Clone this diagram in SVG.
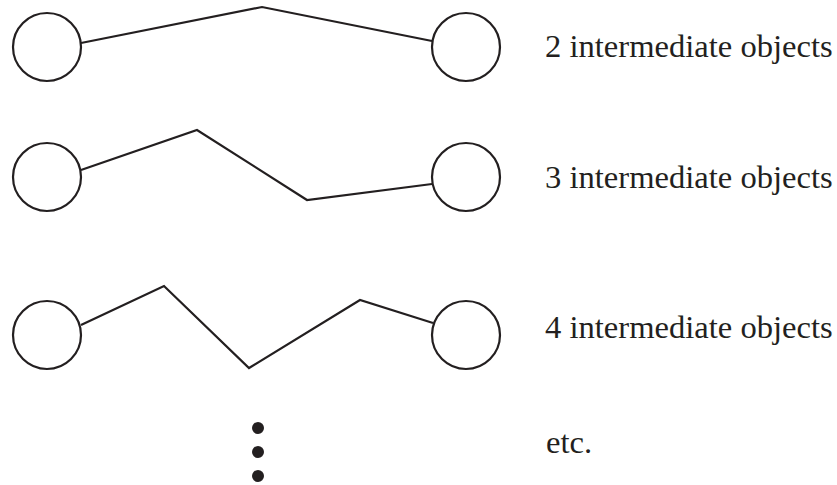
<svg xmlns="http://www.w3.org/2000/svg" width="837" height="485" viewBox="0 0 837 485">
<style>
.obj{fill:#fff;stroke:#231f20;stroke-width:2.2}
.link{fill:none;stroke:#231f20;stroke-width:2.2;stroke-linejoin:miter}
.lbl{font-family:"Liberation Serif","Times New Roman",serif;font-size:32.6px;fill:#231f20}
.dot{fill:#231f20}
</style>
<rect width="837" height="485" fill="#fff"/>
<g id="connectors">
<polyline class="link" points="81,43 262,7 432,41"/>
<polyline class="link" points="81,170 197,130 307,200 432,184"/>
<polyline class="link" points="81,325 164,286 249,368 360,300 433,323"/>
</g>
<g id="row1-left"><circle class="obj" cx="47" cy="47" r="34"/></g>
<g id="row1-right"><circle class="obj" cx="466" cy="47" r="34"/></g>
<g id="row2-left"><circle class="obj" cx="47" cy="177" r="34"/></g>
<g id="row2-right"><circle class="obj" cx="466" cy="177" r="34"/></g>
<g id="row3-left"><circle class="obj" cx="47" cy="335" r="34"/></g>
<g id="row3-right"><circle class="obj" cx="466" cy="335" r="34"/></g>
<g id="ellipsis">
<circle class="dot" cx="258" cy="428" r="6"/>
<circle class="dot" cx="258" cy="452" r="6"/>
<circle class="dot" cx="258" cy="476" r="6"/>
</g>
<g id="labels">
<text class="lbl" x="545" y="57">2 intermediate objects</text>
<text class="lbl" x="545" y="188">3 intermediate objects</text>
<text class="lbl" x="545" y="338">4 intermediate objects</text>
<text class="lbl" x="546" y="453">etc.</text>
</g>
</svg>
